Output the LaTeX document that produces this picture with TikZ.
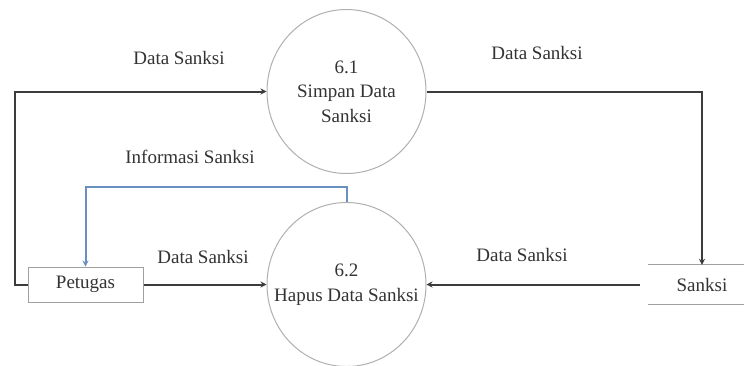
\documentclass[tikz,border=0pt]{standalone}
\usepackage{fontspec}
\setmainfont{Liberation Serif}
\usetikzlibrary{shapes.geometric,arrows.meta}
\definecolor{linec}{HTML}{3C3C3C}
\definecolor{circc}{HTML}{B0B0B0}
\definecolor{boxc}{HTML}{A0A0A0}
\definecolor{txtc}{HTML}{333333}
\definecolor{bluec}{HTML}{6A90BF}
\begin{document}
\begin{tikzpicture}[x=1pt,y=-1pt,
  proc/.style={ellipse,draw=circc,line width=1pt,minimum width=159pt,minimum height=164pt,inner sep=0pt},
  ptext/.style={align=center,text=txtc,font=\fontsize{19}{24.5}\selectfont,inner sep=0pt},
  ent/.style={rectangle,draw=boxc,line width=1pt,minimum width=115pt,minimum height=35pt,inner sep=0pt,text=txtc,font=\fontsize{19}{23}\selectfont},
  store/.style={rectangle,minimum width=108pt,minimum height=39pt,inner sep=0pt,text=txtc,font=\fontsize{19}{23}\selectfont},
  lbl/.style={text=txtc,font=\fontsize{19}{23}\selectfont,inner sep=0pt},
  flow/.style={draw=linec,line width=2pt,-{Stealth[length=6pt,width=6pt]}},
  bflow/.style={draw=bluec,line width=2pt,-{Stealth[length=6pt,width=6pt]}}
]
\useasboundingbox (0,0) rectangle (744,365);
\fill[white] (0,0) rectangle (744,365);
\coordinate (rightedge) at (744,0);

\node[proc] (p61) at (346.5,91.5) {};
\node[ptext] (t61) at (p61.center) {6.1\\Simpan Data\\Sanksi};
\node[proc] (p62) at (346.5,284.5) {};
\node[ptext] (t62) at (p62.center) {6.2\\Hapus Data Sanksi};

\node[ent] (pet) at (85.5,284.5) {Petugas};
\node[store] (st) at (702,284.5) {Sanksi};
\draw[draw=boxc,line width=1pt] (st.north west) -- (st.north west -| rightedge);
\draw[draw=boxc,line width=1pt] (st.south west) -- (st.south west -| rightedge);

\node[lbl] (l1) at (179,58) {Data Sanksi};
\node[lbl] (l2) at (537,53) {Data Sanksi};
\node[lbl] (l3) at (190,157) {Informasi Sanksi};
\node[lbl] (l4) at (203,257) {Data Sanksi};
\node[lbl] (l5) at (522,255) {Data Sanksi};

\draw[flow] (pet.west) -- ++(-13,0) |- (p61.west);
\draw[flow] (pet.east) -- (p62.west);
\draw[flow] (p61.east) -| (st.north);
\draw[flow] ([xshift=-8pt]st.west) -- (p62.east);
\draw[bflow] (p62.north) -- ++(0,-15) -| (pet.north);
\end{tikzpicture}
\end{document}
